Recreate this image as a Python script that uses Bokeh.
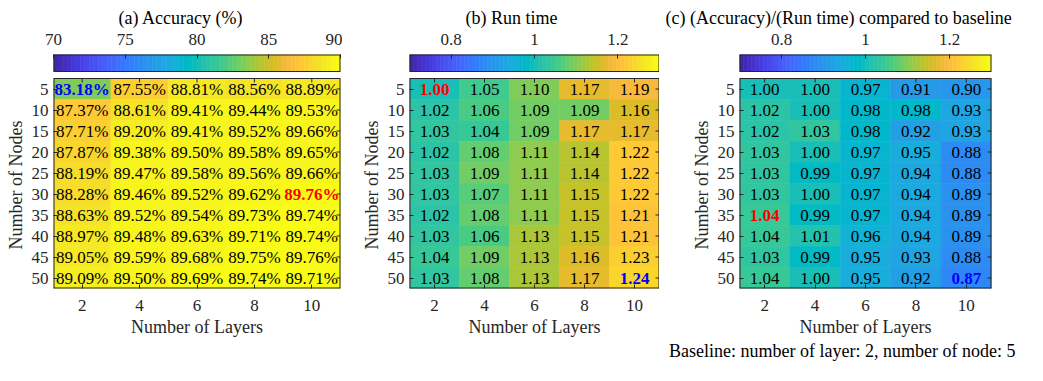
import numpy as np
from bokeh.plotting import figure
from bokeh.models import (ColumnDataSource, LinearColorMapper, LinearAxis,
                          FixedTicker, Range1d, Title)
from bokeh.layouts import row
from bokeh.core.properties import value
from bokeh.embed import file_html
from bokeh.resources import INLINE

# ---------------- data ----------------
layers = [2, 4, 6, 8, 10]
nodes = [5, 10, 15, 20, 25, 30, 35, 40, 45, 50]

accuracy = [
    [83.18, 87.55, 88.81, 88.56, 88.89],
    [87.37, 88.61, 89.41, 89.44, 89.53],
    [87.71, 89.20, 89.41, 89.52, 89.66],
    [87.87, 89.38, 89.50, 89.58, 89.65],
    [88.19, 89.47, 89.58, 89.56, 89.66],
    [88.28, 89.46, 89.52, 89.62, 89.76],
    [88.63, 89.52, 89.54, 89.73, 89.74],
    [88.97, 89.48, 89.63, 89.71, 89.74],
    [89.05, 89.59, 89.68, 89.75, 89.76],
    [89.09, 89.50, 89.69, 89.74, 89.71],
]
run_time = [
    [1.00, 1.05, 1.10, 1.17, 1.19],
    [1.02, 1.06, 1.09, 1.09, 1.16],
    [1.03, 1.04, 1.09, 1.17, 1.17],
    [1.02, 1.08, 1.11, 1.14, 1.22],
    [1.03, 1.09, 1.11, 1.14, 1.22],
    [1.03, 1.07, 1.11, 1.15, 1.22],
    [1.02, 1.08, 1.11, 1.15, 1.21],
    [1.03, 1.06, 1.13, 1.15, 1.21],
    [1.04, 1.09, 1.13, 1.16, 1.23],
    [1.03, 1.08, 1.13, 1.17, 1.24],
]
acc_per_time = [
    [1.00, 1.00, 0.97, 0.91, 0.90],
    [1.02, 1.00, 0.98, 0.98, 0.93],
    [1.02, 1.03, 0.98, 0.92, 0.93],
    [1.03, 1.00, 0.97, 0.95, 0.88],
    [1.03, 0.99, 0.97, 0.94, 0.88],
    [1.03, 1.00, 0.97, 0.94, 0.89],
    [1.04, 0.99, 0.97, 0.94, 0.89],
    [1.04, 1.01, 0.96, 0.94, 0.89],
    [1.03, 0.99, 0.95, 0.93, 0.88],
    [1.04, 1.00, 0.95, 0.92, 0.87],
]

panel_titles = ["(a) Accuracy (%)", "(b) Run time",
                "(c) (Accuracy)/(Run time) compared to baseline"]
x_label = "Number of Layers"
y_label = "Number of Nodes"
footnote = "Baseline: number of layer: 2, number of node: 5"

cbar_limits = [(70, 90), (0.7, 1.3), (0.7, 1.3)]
cbar_ticks = [[70, 75, 80, 85, 90], [0.8, 1, 1.2], [0.8, 1, 1.2]]
cbar_tick_labels = [["70", "75", "80", "85", "90"], ["0.8", "1", "1.2"], ["0.8", "1", "1.2"]]
cell_suffix = ["%", "", ""]

# highlighted cells: (nodes, layers)
red_cells = [(30, 10), (5, 2), (35, 2)]
blue_cells = [(5, 2), (50, 10), (50, 10)]

# MATLAB parula colormap (64 colours)
PARULA_RGB = [
    (0.2422, 0.1504, 0.6603), (0.2504, 0.1650, 0.7076), (0.2578, 0.1818, 0.7511), (0.2647, 0.1978, 0.7952),
    (0.2706, 0.2147, 0.8364), (0.2751, 0.2342, 0.8710), (0.2783, 0.2559, 0.8991), (0.2803, 0.2782, 0.9221),
    (0.2813, 0.3006, 0.9414), (0.2810, 0.3228, 0.9579), (0.2795, 0.3447, 0.9717), (0.2760, 0.3667, 0.9829),
    (0.2699, 0.3892, 0.9906), (0.2602, 0.4123, 0.9952), (0.2440, 0.4358, 0.9988), (0.2206, 0.4603, 0.9973),
    (0.1963, 0.4847, 0.9892), (0.1834, 0.5074, 0.9798), (0.1786, 0.5289, 0.9682), (0.1764, 0.5499, 0.9520),
    (0.1687, 0.5703, 0.9359), (0.1540, 0.5902, 0.9218), (0.1460, 0.6091, 0.9079), (0.1380, 0.6276, 0.8973),
    (0.1248, 0.6459, 0.8883), (0.1113, 0.6635, 0.8763), (0.0952, 0.6798, 0.8598), (0.0689, 0.6948, 0.8394),
    (0.0297, 0.7082, 0.8163), (0.0036, 0.7203, 0.7917), (0.0067, 0.7312, 0.7660), (0.0433, 0.7411, 0.7394),
    (0.0964, 0.7500, 0.7120), (0.1408, 0.7584, 0.6842), (0.1717, 0.7670, 0.6554), (0.1938, 0.7758, 0.6251),
    (0.2161, 0.7843, 0.5923), (0.2470, 0.7918, 0.5567), (0.2906, 0.7973, 0.5188), (0.3406, 0.8008, 0.4789),
    (0.3909, 0.8029, 0.4354), (0.4456, 0.8024, 0.3909), (0.5044, 0.7993, 0.3480), (0.5616, 0.7942, 0.3045),
    (0.6174, 0.7876, 0.2612), (0.6720, 0.7793, 0.2227), (0.7242, 0.7698, 0.1910), (0.7738, 0.7598, 0.1646),
    (0.8203, 0.7498, 0.1535), (0.8634, 0.7406, 0.1596), (0.9035, 0.7330, 0.1774), (0.9393, 0.7288, 0.2100),
    (0.9728, 0.7298, 0.2394), (0.9956, 0.7434, 0.2371), (0.9970, 0.7659, 0.2199), (0.9952, 0.7893, 0.2028),
    (0.9892, 0.8136, 0.1885), (0.9786, 0.8386, 0.1766), (0.9676, 0.8639, 0.1643), (0.9610, 0.8890, 0.1537),
    (0.9597, 0.9135, 0.1423), (0.9628, 0.9373, 0.1265), (0.9691, 0.9606, 0.1064), (0.9769, 0.9839, 0.0805),
]
PARULA = ["#%02x%02x%02x" % tuple(int(round(c * 255)) for c in t) for t in PARULA_RGB]

# ---------------- layout / style ----------------
FONT = "Liberation Serif"
AX = "#262626"
FRAME_W = [292, 250, 252]
BORDER_L = [48, 67, 80]
BORDER_R = [2, 0, 28]
TITLE_OFFSET = [65, 56, -74]   # px from frame left to title start
YLABEL_OFFSET = 39             # px from frame bottom to start of y label
HEAT_H = 210
CB_H = 17
CB_GAP = 7
BORDER_T = 54
BORDER_B = 77
TICK = 4


def style_axis(ax):
    ax.axis_line_color = None
    ax.major_tick_in = TICK
    ax.major_tick_out = 0
    ax.minor_tick_line_color = None
    ax.major_tick_line_color = AX
    ax.major_label_text_font = FONT
    ax.major_label_text_font_size = "17px"
    ax.major_label_text_color = AX
    ax.axis_label_text_font = FONT
    ax.axis_label_text_font_size = "18px"
    ax.axis_label_text_font_style = "normal"
    ax.axis_label_text_color = AX


def make_panel(i, data):
    lo, hi = cbar_limits[i]
    mapper = LinearColorMapper(palette=PARULA, low=lo, high=hi)
    dx = layers[1] - layers[0]
    dy = nodes[1] - nodes[0]
    xl, xr = layers[0] - dx / 2, layers[-1] + dx / 2
    yt, yb = nodes[0] - dy / 2, nodes[-1] + dy / 2
    upp_y = (yb - yt) / HEAT_H
    upp_x = (xr - xl) / FRAME_W[i]
    cb_bot = yt - CB_GAP * upp_y
    cb_top = cb_bot - CB_H * upp_y
    frame_h = HEAT_H + CB_GAP + CB_H

    p = figure(width=BORDER_L[i] + FRAME_W[i] + BORDER_R[i],
               height=BORDER_T + frame_h + BORDER_B,
               x_range=Range1d(xl, xr), y_range=Range1d(yb, cb_top),
               x_axis_type=None, y_axis_type=None,
               output_backend="svg", toolbar_location=None,
               min_border_left=BORDER_L[i], min_border_right=BORDER_R[i],
               min_border_top=BORDER_T, min_border_bottom=BORDER_B)
    p.outline_line_color = None
    p.extra_x_ranges = {"cb": Range1d(lo, hi)}

    # heatmap cells
    xs, ys, vs = [], [], []
    nx, ny, nt = [], [], []
    bx, by, bt, bc = [], [], [], []
    for r, n in enumerate(nodes):
        for c, l in enumerate(layers):
            v = data[r][c]
            xs.append(l); ys.append(n); vs.append(v)
            txt = f"{v:.2f}{cell_suffix[i]}"
            if (n, l) == red_cells[i]:
                bx.append(l); by.append(n); bt.append(txt); bc.append("#ff0000")
            elif (n, l) == blue_cells[i]:
                bx.append(l); by.append(n); bt.append(txt); bc.append("#0000ff")
            else:
                nx.append(l); ny.append(n); nt.append(txt)
    cells = ColumnDataSource(dict(x=xs, y=ys, v=vs))
    p.rect("x", "y", width=dx, height=dy, source=cells,
           fill_color={"field": "v", "transform": mapper},
           line_color={"field": "v", "transform": mapper}, line_width=0.6)

    p.text(x=nx, y=ny, text=nt, text_align="center", text_baseline="middle",
           text_font=value(FONT), text_font_size="17px", text_color="black")
    p.text(x=bx, y=by, text=bt, text_align="center", text_baseline="middle",
           text_font=value(FONT), text_font_size="17px", text_color=bc,
           text_font_style="bold")

    # colour bar
    edges = np.linspace(lo, hi, len(PARULA) + 1)
    cb = ColumnDataSource(dict(left=edges[:-1], right=edges[1:],
                               v=(edges[:-1] + edges[1:]) / 2))
    p.quad(left="left", right="right", bottom=cb_bot, top=cb_top, source=cb,
           x_range_name="cb",
           fill_color={"field": "v", "transform": mapper},
           line_color={"field": "v", "transform": mapper}, line_width=0.6)

    # box outlines (edges on frame boundary drawn wider because half is clipped)
    p.segment(x0=[xl, xr, xl, xl, xl, xr, xl, xl],
              y0=[yt, yt, yb, yt, cb_top, cb_top, cb_top, cb_bot],
              x1=[xl, xr, xr, xr, xl, xr, xr, xr],
              y1=[yb, yb, yb, yt, cb_bot, cb_bot, cb_top, cb_bot],
              line_width=[2, 2, 2, 1, 2, 2, 2, 1], line_color=AX)
    # mirrored ticks (top and right of the heatmap)
    p.segment(x0=layers, x1=layers, y0=[yt] * len(layers),
              y1=[yt + TICK * upp_y] * len(layers), line_color=AX, line_width=1)
    p.segment(x0=[xr - TICK * upp_x] * len(nodes), x1=[xr] * len(nodes),
              y0=nodes, y1=nodes, line_color=AX, line_width=1)

    # axes
    xa = LinearAxis(ticker=FixedTicker(ticks=layers), axis_label=x_label)
    style_axis(xa)
    xa.major_label_standoff = 11
    xa.axis_label_standoff = 3
    p.add_layout(xa, "below")

    ya = LinearAxis(ticker=FixedTicker(ticks=nodes))
    style_axis(ya)
    ya.major_label_standoff = 5
    p.add_layout(ya, "left")
    # y label centred on the heatmap (not on the whole frame incl. colour bar)
    p.add_layout(Title(text=y_label, align="left", offset=YLABEL_OFFSET, standoff=6,
                       text_font=FONT, text_font_size="18px", text_font_style="normal",
                       text_color=AX), "left")

    ca = LinearAxis(x_range_name="cb", ticker=FixedTicker(ticks=cbar_ticks[i]),
                    major_label_overrides={t: s for t, s in zip(cbar_ticks[i], cbar_tick_labels[i])})
    style_axis(ca)
    ca.major_label_standoff = 10
    p.add_layout(ca, "above")

    # panel title
    p.title.text = panel_titles[i]
    p.title.text_font = FONT
    p.title.text_font_size = "18px"
    p.title.text_font_style = "normal"
    p.title.text_color = "black"
    p.title.align = "left"
    p.title.offset = TITLE_OFFSET[i]
    p.title.standoff = 5

    if i == 2:
        foot = Title(text=footnote, align="right", offset=-24, standoff=2,
                     vertical_align="top", text_font=FONT, text_font_size="18px",
                     text_font_style="normal", text_color="black")
        p.add_layout(foot, "below")
    return p


pa = make_panel(0, accuracy)
pb = make_panel(1, run_time)
pc = make_panel(2, acc_per_time)

layout = row(pa, pb, pc)
open("out.html", "w").write(file_html(layout, INLINE))
